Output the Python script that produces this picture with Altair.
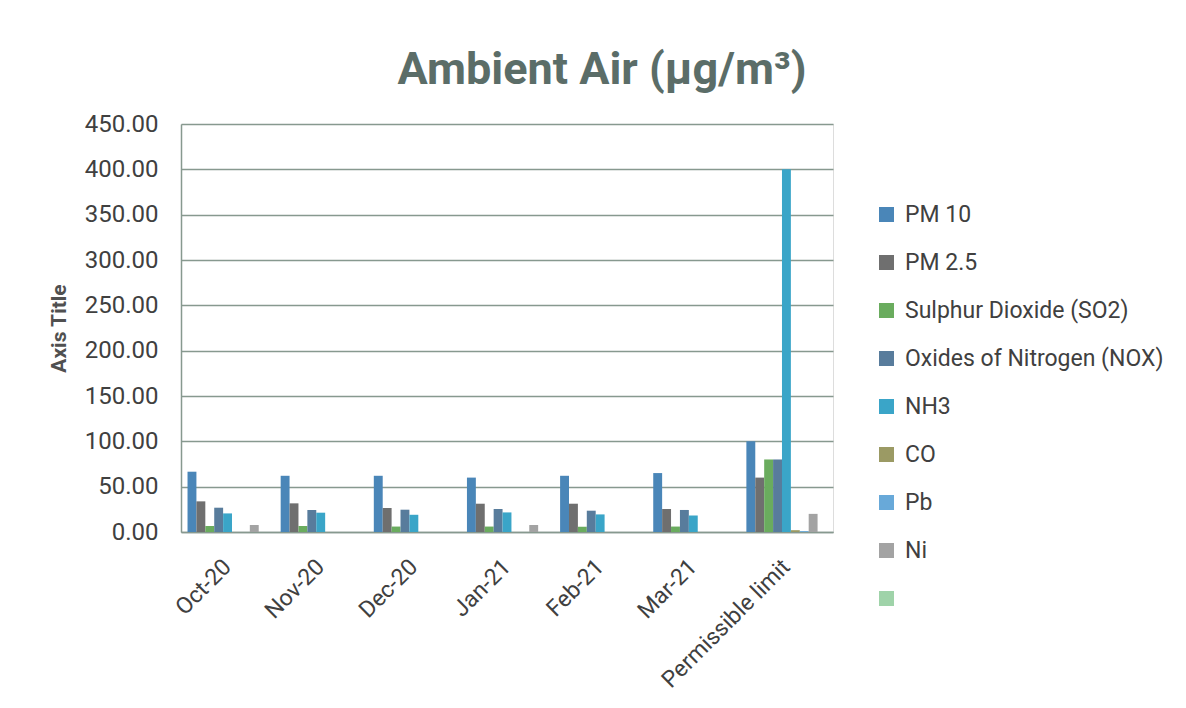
import altair as alt
import pandas as pd

categories = ["Oct-20", "Nov-20", "Dec-20", "Jan-21", "Feb-21", "Mar-21", "Permissible limit"]
series = ["PM 10", "PM 2.5", "Sulphur Dioxide (SO2)", "Oxides of Nitrogen (NOX)", "NH3", "CO", "Pb", "Ni", " "]
colors = ["#4a86b8", "#6f6f6f", "#6aac5e", "#587c9c", "#3aa5c8", "#9b9a64", "#68a9d9", "#a3a3a3", "#9fd3a9"]

pm10 = [66.5, 62.0, 62.0, 60.0, 62.0, 65.0, 100.0]
pm25 = [33.8, 31.6, 26.5, 31.2, 31.2, 25.4, 60.0]
so2 = [6.6, 6.6, 6.0, 6.0, 5.8, 6.0, 80.0]
nox = [26.8, 24.3, 24.6, 25.4, 23.5, 24.3, 80.0]
nh3 = [20.5, 21.3, 19.0, 21.6, 19.4, 18.3, 400.0]
co = [None, None, None, None, None, None, 2.0]
pb = [None, None, None, None, None, None, 1.0]
ni = [7.7, None, None, 7.7, None, None, 20.0]

rows = []
for name, vals in zip(series[:8], [pm10, pm25, so2, nox, nh3, co, pb, ni]):
    for c, v in zip(categories, vals):
        if v is not None:
            rows.append({"Month": c, "Series": name, "Value": v})
df = pd.DataFrame(rows)

grid_color = "#87998f"
text_color = "#404040"
FONT = "Roboto"

chart = alt.Chart(df).mark_bar().encode(
    x=alt.X("Month:N", sort=categories,
            scale=alt.Scale(domain=categories, paddingInner=0.14, paddingOuter=0.07),
            axis=alt.Axis(title=None, labelAngle=-45, labelAlign="right", labelBaseline="middle",
                          labelFontSize=23, labelColor=text_color, labelFont=FONT, labelLimit=0,
                          labelPadding=31, ticks=False, domainColor=grid_color, domainWidth=1.5)),
    xOffset=alt.XOffset("Series:N", sort=series, scale=alt.Scale(domain=series, paddingInner=0, paddingOuter=0)),
    y=alt.Y("Value:Q", scale=alt.Scale(domain=[0, 450], nice=False),
            axis=alt.Axis(title="Axis Title", format=".2f", values=list(range(0, 451, 50)),
                          labelFontSize=24, labelColor=text_color, labelFont=FONT,
                          labelPadding=23, ticks=False, domainColor=grid_color, domainWidth=1.5,
                          gridColor=grid_color, gridWidth=1.5,
                          titleFontSize=21, titleFont=FONT, titleFontWeight="bold",
                          titleColor="#505050", titlePadding=15)),
    color=alt.Color("Series:N", sort=series, scale=alt.Scale(domain=series, range=colors),
                    legend=alt.Legend(title=None, orient="none", legendX=694, legendY=79,
                                      symbolType="square", symbolSize=225, symbolStrokeWidth=0,
                                      labelFontSize=23, labelColor=text_color, labelFont=FONT,
                                      labelLimit=0, rowPadding=24, labelOffset=7)),
).properties(
    width=652, height=408,
    title=alt.TitleParams("Ambient Air (µg/m³)", fontSize=45, font=FONT, fontWeight="bold",
                          color="#5b6d68", anchor="middle", dx=95, offset=19),
    autosize=alt.AutoSizeParams(type="none"),
    padding={"left": 173, "top": 116, "right": 345, "bottom": 168},
).configure_view(stroke=None).configure(background="white")

chart.save("out.html", embed_options={"renderer": "svg", "actions": False})
